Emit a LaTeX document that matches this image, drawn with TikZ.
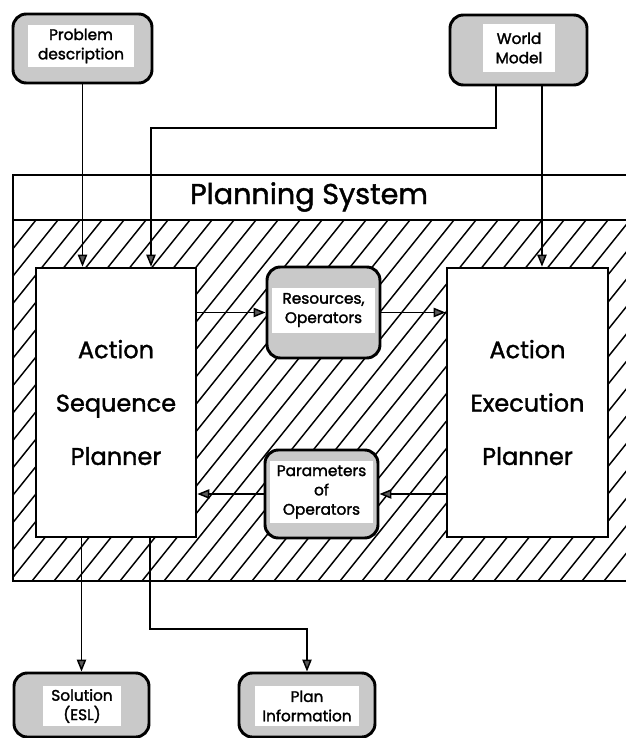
\documentclass[tikz,border=0pt]{standalone}
\usepackage{fontspec}
\setmainfont{Poppins}
\newfontfamily\labelfont{Poppins}[FakeBold=1.4]
\newfontfamily\storefont{Poppins}[FakeBold=1.8]
\usetikzlibrary{arrows.meta}
\begin{document}
\begin{tikzpicture}[x=0.75pt,y=-0.75pt,
  sz/.style 2 args={minimum width=#1*0.75pt, minimum height=#2*0.75pt},
  frame/.style={line width=1.6pt},
  hatchline/.style={line width=1.1pt},
  planner/.style={draw, line width=2pt, fill=white, inner sep=0pt, align=center,
    font=\labelfont\fontsize{18}{40}\selectfont},
  databox/.style={draw, line width=2.2pt, rounded corners=10pt, fill=black!21, inner sep=0pt},
  datatext/.style={fill=white, inner sep=0pt, align=center,
    font=\storefont\fontsize{11.5}{14.5}\selectfont},
  arr/.style={line width=1.1pt, -{Triangle[length=9pt,width=7pt,fill=black!65]}}
]
\useasboundingbox (0,0) rectangle (625,738);

% outer frame of the planning system with its title band
\draw[frame] (627,175) -- (13,175) -- (13,581) -- (627,581);
\draw[frame] (13,220) -- (627,220);
\node[font=\labelfont\fontsize{21.5}{25}\selectfont] (title) at (309,197) {Planning System};

% diagonal hatching of the system body
\begin{scope}
  \clip (13,220) rectangle (627,581);
  \foreach \x in {-320,-298,...,640}
    \draw[hatchline] (\x,581) -- ++(290,-361);
\end{scope}

% the two planners
\node[planner, sz={160}{269}] (asp) at (116,402.5) {Action\\Sequence\\Planner};
\node[planner, sz={161}{269}] (aep) at (527.5,402.5) {Action\\Execution\\Planner};

% data stores
\node[databox, sz={139}{69}] (prob) at (82.5,48.5) {};
\node[datatext, sz={106}{42}] (probtxt) at (81,46) {Problem\\description};
\node[databox, sz={137}{70}] (world) at (518.5,50) {};
\node[datatext, sz={72}{48}] (worldtxt) at (519,48) {World\\Model};
\node[databox, sz={113}{91}] (res) at (323.5,312.5) {};
\node[datatext, sz={103}{45}] (restxt) at (323.5,310) {Resources,\\Operators};
\node[databox, sz={113}{88}] (par) at (321.5,494) {};
\node[datatext, sz={103}{62}] (partxt) at (321.5,492) {Parameters\\of\\Operators};
\node[databox, sz={135}{64}] (sol) at (81.5,705) {};
\node[datatext, sz={78}{40}] (soltxt) at (82,706) {Solution\\(ESL)};
\node[databox, sz={136}{64}] (plan) at (307,705) {};
\node[datatext, sz={104}{40}] (plantxt) at (307,706) {Plan\\Information};

% inputs from above
\coordinate (wbend) at (151,128);
\draw[arr] (prob.south) -- (prob.south |- asp.north);
\draw[arr] ([xshift=-16.9pt]world.south) |- (wbend) -- (wbend |- asp.north);
\draw[arr] ([xshift=17.6pt]world.south) -- ([xshift=17.6pt]world.south |- aep.north);

% exchange between the planners
\draw[arr] (asp.east |- res.west) -- (res.west);
\draw[arr] (res.east) -- (res.east -| aep.west);
\draw[arr] (aep.west |- par.east) -- (par.east);
\draw[arr] (par.west) -- (par.west -| asp.east);

% outputs
\coordinate (pbend) at (150,629);
\draw[arr] (sol.north |- asp.south) -- (sol.north);
\draw[arr] (pbend |- asp.south) -- (pbend) -| (plan.north);
\end{tikzpicture}
\end{document}
